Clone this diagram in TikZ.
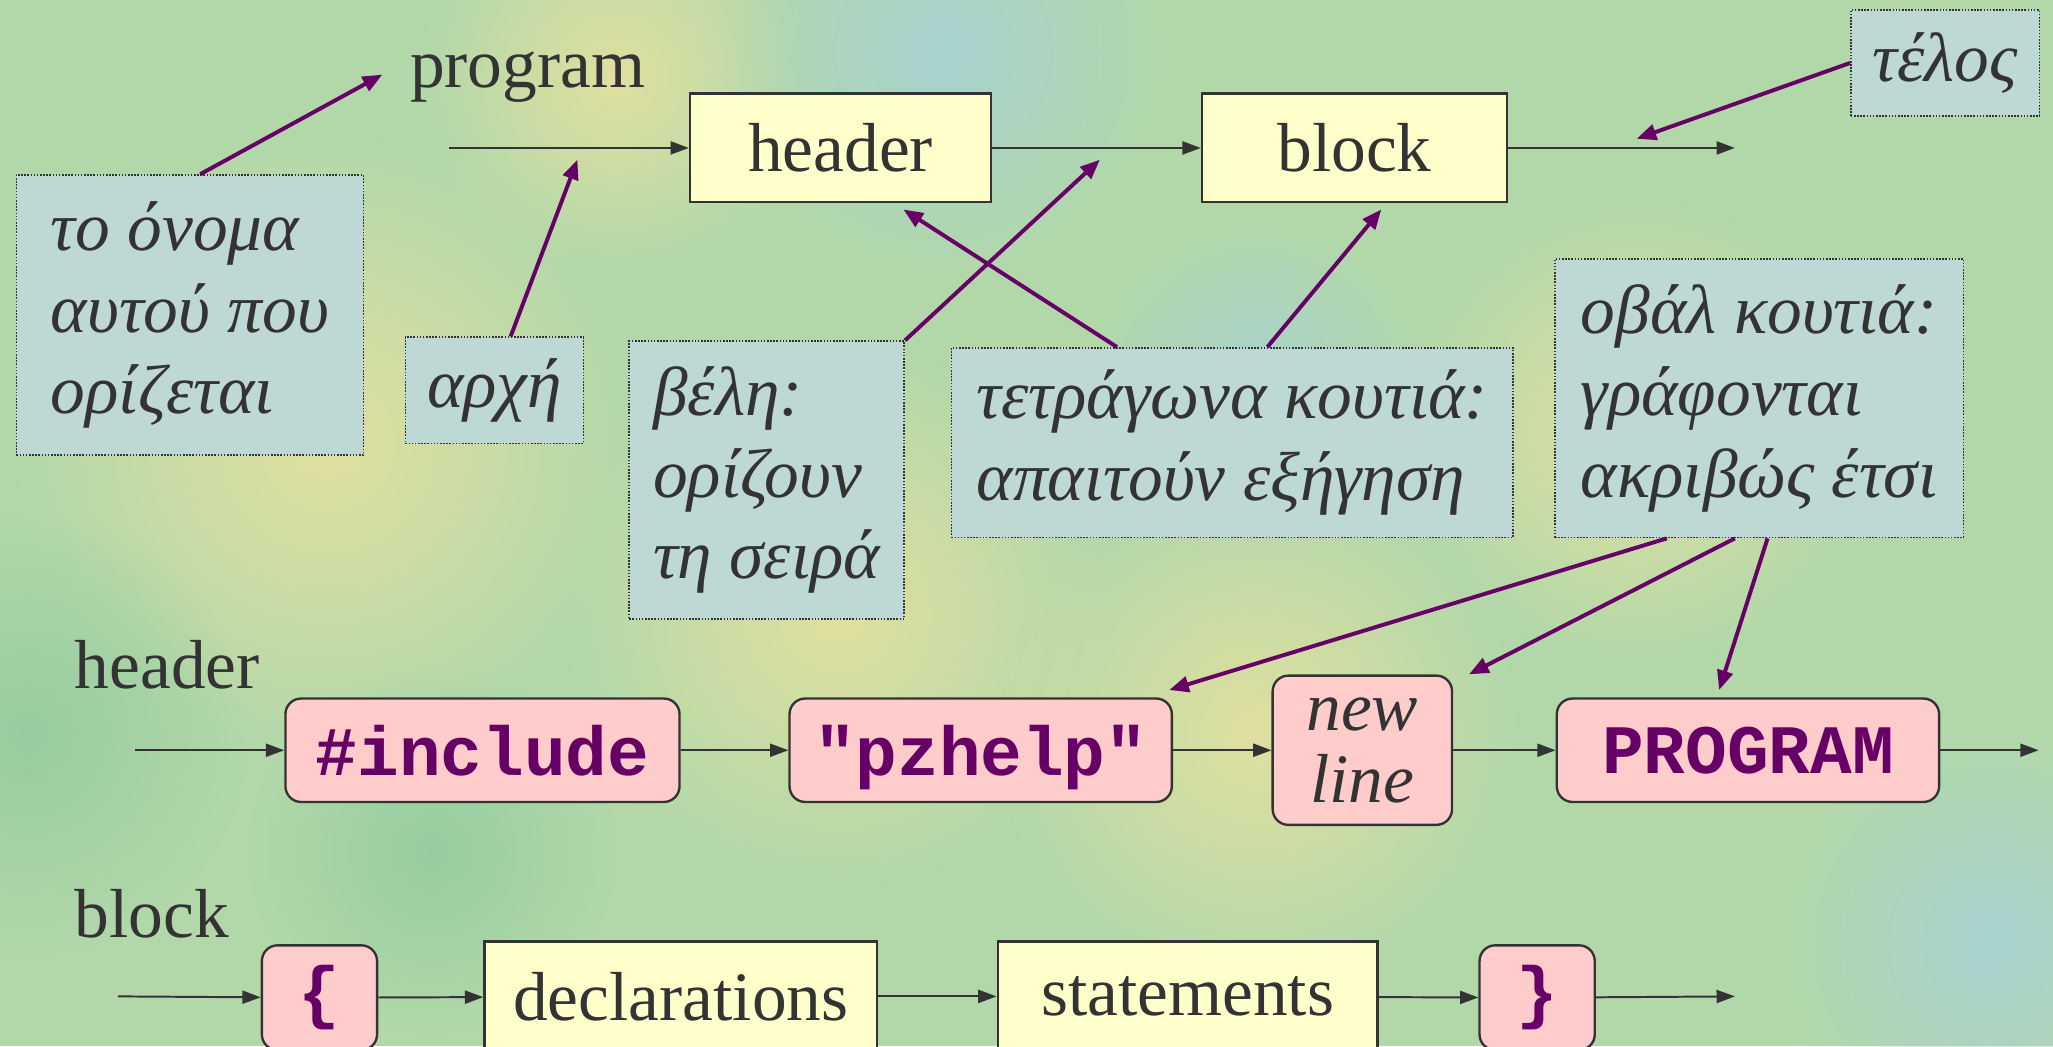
\documentclass[tikz,border=0pt]{standalone}
\usepackage{fontspec}
\setmainfont{Liberation Serif}
\setmonofont{Liberation Mono}
\usetikzlibrary{arrows.meta,fadings}

\definecolor{bgGreen}{RGB}{178,216,170}
\definecolor{bgYellow}{RGB}{224,224,160}
\definecolor{bgBlue}{RGB}{168,210,208}
\definecolor{bgDeep}{RGB}{150,205,160}
\definecolor{inkGray}{RGB}{51,51,51}
\definecolor{sqFill}{RGB}{255,255,204}
\definecolor{ovalFill}{RGB}{255,204,204}
\definecolor{notePurple}{RGB}{102,0,102}
\definecolor{noteFill}{RGB}{190,216,214}

\tikzfading[name=blob, inner color=transparent!0, outer color=transparent!100]

\tikzset{
  sqbox/.style={draw=inkGray, fill=sqFill, line width=1.8pt, inner sep=0pt, text=inkGray, font=\fontsize{53}{60}\selectfont},
  ovbox/.style={draw=inkGray, fill=ovalFill, line width=1.8pt, rounded corners=12pt, inner sep=0pt, text=notePurple, font=\fontsize{53}{60}\selectfont\ttfamily\bfseries},
  note/.style={draw=inkGray, dash pattern=on 1.2pt off 1.2pt, line width=1.2pt, fill=noteFill, anchor=north west, inner sep=0pt, align=left, text=inkGray, font=\fontsize{53}{62.5}\selectfont\itshape},
  rowname/.style={anchor=base west, inner sep=0pt, text=inkGray, font=\fontsize{53}{60}\selectfont},
  flow/.style={draw=inkGray, line width=1.5pt, -{Triangle[length=14pt,width=10pt]}},
  hint/.style={draw=notePurple, line width=3pt, -{Triangle[length=15pt,width=12pt]}}
}

\begin{document}
\begin{tikzpicture}[x=1pt,y=1pt,yscale=-1,xscale=1]
\clip (0,0) rectangle (1568,799);
% background
\fill[bgGreen] (0,0) rectangle (1568,799);
\fill[bgYellow, path fading=blob] (250,340) circle (240);
\fill[bgYellow, path fading=blob] (640,470) circle (210);
\fill[bgYellow, path fading=blob] (960,560) circle (200);
\fill[bgYellow, path fading=blob] (470,60) circle (150);
\fill[bgYellow, path fading=blob] (1250,330) circle (180);
\fill[bgBlue, path fading=blob] (720,40) circle (170);
\fill[bgBlue, path fading=blob] (1520,720) circle (160);
\fill[bgBlue, path fading=blob] (960,300) circle (130);
\fill[bgDeep, path fading=blob] (20,560) circle (170);
\fill[bgDeep, path fading=blob] (330,650) circle (140);

% program
\draw (313,67) node [rowname] (prog) {program};
\draw (642,113) node [sqbox, minimum width=230pt, minimum height=83pt] (header) {header};
\draw (1034.5,113) node [sqbox, minimum width=233pt, minimum height=83pt] (block) {block};
\coordinate (tStart) at (343,113);
\coordinate (tEnd) at (1325,113);
\draw[flow] (tStart) -- (header);
\draw[flow] (header) -- (block);
\draw[flow] (block) -- (tEnd);

% header
\draw (57,526) node [rowname] (hdrName) {header};
\draw (368.5,573) node [ovbox, minimum width=301pt, minimum height=79pt] (incl) {\#include};
\draw (749,573) node [ovbox, text depth=0pt, minimum width=292pt, minimum height=79pt] (pzhelp) {"pzhelp"};
\draw (1040.5,573) node [ovbox, minimum width=137pt, minimum height=114pt, align=center, text=inkGray, font=\fontsize{53}{55}\selectfont\itshape] (newline) {new\\line};
\draw (1335,573) node [ovbox, minimum width=292pt, minimum height=79pt] (prgm) {PROGRAM};
\coordinate (hStart) at (103,573);
\coordinate (hEnd) at (1557,573);
\draw[flow] (hStart) -- (incl);
\draw[flow] (incl) -- (pzhelp);
\draw[flow] (pzhelp) -- (newline);
\draw[flow] (newline) -- (prgm);
\draw[flow] (prgm) -- (hEnd);

% block
\draw (57,716) node [rowname] (blkName) {block};
\draw (244,762) node [ovbox, minimum width=88pt, minimum height=80pt] (lbrace) {\{};
\draw (520,761) node [sqbox, minimum width=300pt, minimum height=84pt] (decl) {declarations};
\draw (907,761) node [sqbox, minimum width=290pt, minimum height=84pt] (stmts) {statements};
\draw (1174,762) node [ovbox, minimum width=88pt, minimum height=80pt] (rbrace) {\}};
\coordinate (bStart) at (90,761);
\coordinate (bEnd) at (1325,761);
\draw[flow] (bStart) -- (lbrace);
\draw[flow] (lbrace) -- (decl);
\draw[flow] (decl) -- (stmts);
\draw[flow] (stmts) -- (rbrace);
\draw[flow] (rbrace) -- (bEnd);

% notes
\draw (12,133) node [note, minimum width=265pt, minimum height=214pt] (nameNote) {το όνομα\\αυτού που\\ορίζεται};
\draw (309,257) node [note, minimum width=136pt, minimum height=81pt] (startNote) {αρχή};
\draw (480,260) node [note, minimum width=210pt, minimum height=212pt] (orderNote) {βέλη:\\ορίζουν\\τη σειρά};
\draw (726,265) node [note, minimum width=429pt, minimum height=145pt] (sqNote) {τετράγωνα κουτιά:\\απαιτούν εξήγηση};
\draw (1187,197) node [note, minimum width=312pt, minimum height=213pt] (ovalNote) {οβάλ κουτιά:\\γράφονται\\ακριβώς έτσι};
\draw (1413,7) node [note, minimum width=144pt, minimum height=81pt] (endNote) {τέλος};

% hint arrows
\coordinate (progTip) at (292,57);
\coordinate (startTip) at (441,122);
\coordinate (orderTip) at (840,122);
\coordinate (hdrTip) at (690,160);
\coordinate (blkTip) at (1055,160);
\coordinate (endTip) at (1250,106);
\coordinate (pzTip) at (893,527);
\coordinate (nlTip) at (1122,515);
\coordinate (pgTip) at (1313,527);
\draw[hint] ([xshift=141pt]nameNote.north west) -- (progTip);
\draw[hint] ([xshift=81pt]startNote.north west) -- (startTip);
\draw[hint] (orderNote.north east) -- (orderTip);
\draw[hint] ([xshift=127pt]sqNote.north west) -- (hdrTip);
\draw[hint] ([xshift=242pt]sqNote.north west) -- (blkTip);
\draw[hint] (endNote.west) -- (endTip);
\draw[hint] ([xshift=86pt]ovalNote.south west) -- (pzTip);
\draw[hint] ([xshift=138pt]ovalNote.south west) -- (nlTip);
\draw[hint] ([xshift=163pt]ovalNote.south west) -- (pgTip);
\end{tikzpicture}
\end{document}
